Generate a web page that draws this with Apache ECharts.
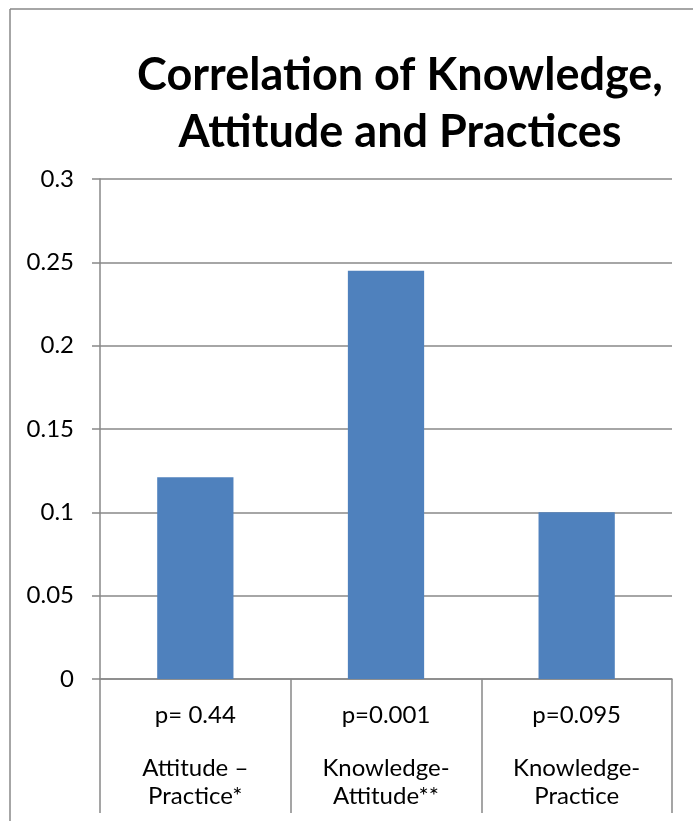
<!DOCTYPE html>
<html><head><meta charset="utf-8">
<script src="https://cdn.jsdelivr.net/npm/echarts@6/dist/echarts.min.js"></script>
<style>html,body{margin:0;padding:0;background:#fff}#c{width:693px;height:821px}</style>
</head><body><div id="c"></div>
<script>
const pValues = ["p= 0.44", "p=0.001", "p=0.095"];
const pairNames = [["Attitude –", "Practice*"], ["Knowledge-", "Attitude**"], ["Knowledge-", "Practice"]];
const categories = pValues.map((p, i) => p + "|" + pairNames[i].join("|"));
const values = [0.121, 0.245, 0.100];
const yTicks = [0, 0.05, 0.1, 0.15, 0.2, 0.25, 0.3];
const titleText = "Correlation of Knowledge,\nAttitude and Practices";
const FONT = "Lato, 'Open Sans', sans-serif";
const chart = echarts.init(document.getElementById('c'));
chart.setOption({
  animation: false,
  title: {
    text: titleText, left: 395, top: 42, textAlign: 'center',
    textStyle: {fontFamily: FONT, fontWeight: 'bold', fontSize: 45, lineHeight: 57, color: '#000'}
  },
  grid: {left: 100, right: 21, top: 179, bottom: 142, containLabel: false},
  xAxis: {
    type: 'category', data: categories, boundaryGap: true,
    axisLine: {lineStyle: {color: '#888', width: 1.5}},
    axisTick: {show: true, length: 134, lineStyle: {color: '#888', width: 1.5}},
    axisLabel: {
      fontFamily: FONT, fontSize: 24, color: '#000', margin: 22, interval: 0,
      formatter: v => { const s = v.split("|"); return "{a|" + s[0] + "}\n{b|}\n{a|" + s[1] + "}\n{a|" + s[2] + "}"; },
      rich: {
        a: {fontFamily: FONT, fontSize: 24, color: '#000', lineHeight: 28},
        b: {fontSize: 10, lineHeight: 25}
      }
    }
  },
  yAxis: {
    type: 'value', min: 0, max: 0.3, interval: 0.05,
    axisLine: {show: true, lineStyle: {color: '#888', width: 1.5}},
    axisTick: {show: true, length: 8, lineStyle: {color: '#888', width: 1.5}},
    splitLine: {lineStyle: {color: '#888', width: 1.5}},
    axisLabel: {fontFamily: FONT, fontSize: 24, color: '#000', margin: 26,
      formatter: v => { const t = yTicks.find(x => Math.abs(x - v) < 1e-9); return String(t !== undefined ? t : v); }}
  },
  series: [{type: 'bar', data: values, barWidth: '40%', itemStyle: {color: '#4F81BD'}}],
  graphic: [
    {type: 'line', shape: {x1: 10, y1: 9, x2: 693, y2: 9}, style: {stroke: '#888', lineWidth: 1.5}},
    {type: 'line', shape: {x1: 10, y1: 9, x2: 10, y2: 821}, style: {stroke: '#888', lineWidth: 1.5}}
  ]
});
</script></body></html>
